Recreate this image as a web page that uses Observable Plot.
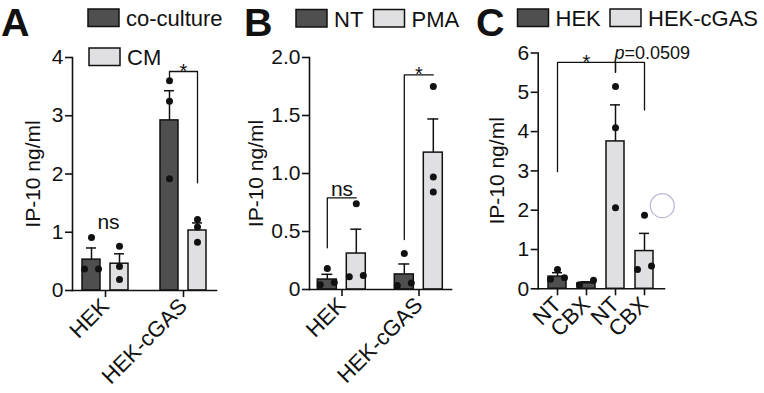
<!DOCTYPE html>
<html><head><meta charset="utf-8">
<script src="https://cdn.jsdelivr.net/npm/d3@7"></script>
<script src="https://cdn.jsdelivr.net/npm/@observablehq/plot@0.6"></script>
<style>
html,body{margin:0;padding:0;background:#fff;}
#wrap{position:relative;width:764px;height:393px;overflow:hidden;font-family:"Liberation Sans",Arial,sans-serif;color:#111;}
#wrap > svg{position:absolute;}
</style></head><body><div id="wrap"></div>
<script>
// ---------- Panel A ----------
const aGroups = ["HEK", "HEK-cGAS"];
const aTreat = ["co-culture", "CM"];
const aMean = [0.53, 0.46, 2.92, 1.03];          // HEK co, HEK CM, cGAS co, cGAS CM
const aSem = [0.20, 0.17, 0.51, 0.13];
const aPoints = [[0.91, 0.37, 0.37], [0.76, 0.41, 0.19], [3.60, 3.25, 1.92], [1.22, 1.09, 0.83]];
const aTicks = [0, 1, 2, 3, 4];

// ---------- Panel B ----------
const bGroups = ["HEK", "HEK-cGAS"];
const bTreat = ["NT", "PMA"];
const bMean = [0.086, 0.31, 0.13, 1.18];
const bSem = [0.045, 0.21, 0.09, 0.29];
const bPoints = [[0.18, 0.04, 0.06], [0.74, 0.11, 0.12], [0.31, 0.035, 0.055], [1.75, 0.97, 0.84]];
const bTicks = [0, 0.5, 1, 1.5, 2];

// ---------- Panel C ----------
const cGroups = ["HEK", "HEK-cGAS"];
const cTreat = ["NT", "CBX"];
const cMean = [0.31, 0.14, 3.75, 0.96];
const cSem = [0.10, 0.04, 0.93, 0.45];
const cPoints = [[0.49, 0.24, 0.28], [0.10, 0.22], [5.15, 4.10, 2.06], [1.87, 0.49, 0.58]];
const cTicks = [0, 1, 2, 3, 4, 5, 6];

// significance annotations (data space)
const aNs = [{fx: "HEK", y: 1.06, label: "ns"}];
const aBrackets = [{fx: "HEK-cGAS", from: "co-culture", to: "CM", top: 3.76, leftEnd: 3.66, rightEnd: 1.85, label: "*"}];
const bBrackets = [
  {fx: "HEK", from: "NT", to: "PMA", top: 0.79, leftEnd: 0.36, rightEnd: 0.79, label: "ns"},
  {fx: "HEK-cGAS", from: "NT", to: "PMA", top: 1.85, leftEnd: 0.43, rightEnd: 1.85, label: "*"}
];
const cBrackets = [
  {from: "HEK|NT", to: "HEK-cGAS|NT", mid: "HEK|CBX", top: 5.76, leftEnd: 2.98, rightEnd: 5.51, label: "*"},
  {from: "HEK-cGAS|NT", to: "HEK-cGAS|CBX", top: 5.76, leftEnd: 5.51, rightEnd: 4.55, label: "=0.0509"}
];

const DARK = "#4f4f4f", LIGHT = "#e0e0e2", INK = "#111";
const FONT = "'Liberation Sans', Arial, sans-serif";
const SW = 1.6;

function buildBars(groups, treats, means, sems, points) {
  const bars = [];
  let i = 0;
  for (const g of groups) for (const t of treats) {
    bars.push({group: g, treat: t, key: g + "|" + t, mean: means[i], sem: sems[i], pts: points[i]});
    i++;
  }
  return bars;
}
function buildDots(bars, thr) {
  const out = [];
  for (const b of bars) {
    const sorted = b.pts.map(v => ({v})).sort((p, q) => p.v - q.v);
    const clusters = [];
    for (const p of sorted) {
      const last = clusters[clusters.length - 1];
      if (last && p.v - last[last.length - 1].v < thr) last.push(p); else clusters.push([p]);
    }
    for (const c of clusters) c.forEach((p, i) => {
      const slot = c.length === 1 ? 0 : Math.round(2 * (i - (c.length - 1) / 2) / (c.length - 1));
      out.push({group: b.group, treat: b.treat, key: b.key, v: p.v, slot});
    });
  }
  return out;
}
function bracketPts(brs, faceted) {
  const pts = [];
  brs.forEach((b, i) => {
    const base = faceted ? {fx: b.fx} : {};
    pts.push({...base, id: i, x: b.from, y: b.leftEnd});
    pts.push({...base, id: i, x: b.from, y: b.top});
    pts.push({...base, id: i, x: b.to, y: b.top});
    pts.push({...base, id: i, x: b.to, y: b.rightEnd});
  });
  return pts;
}
const baseStyle = {background: "transparent", overflow: "visible", fontFamily: FONT, fontSize: "21px", color: INK};

function dotMarks(dots, xField, faceted) {
  return [-1, 0, 1].map(s => Plot.dot(dots.filter(d => d.slot === s), {
    ...(faceted ? {fx: "group"} : {}), x: xField, y: "v", dx: s * 7, r: 3.5, fill: INK, stroke: "none"
  }));
}
const intFmt = d => String(d);

// ---------- build A ----------
const aBars = buildBars(aGroups, aTreat, aMean, aSem, aPoints);
const aDots = buildDots(aBars, 0.12);
const plotA = Plot.plot({
  width: 240, height: 393,
  marginLeft: 70, marginRight: 22, marginTop: 57, marginBottom: 103,
  style: baseStyle,
  fx: {domain: aGroups, paddingInner: 0.15, paddingOuter: 0.012, label: null},
  x: {domain: aTreat, paddingInner: 0.356, paddingOuter: 0.317, axis: null},
  y: {domain: [0, 4]},
  color: {domain: aTreat, range: [DARK, LIGHT]},
  marks: [
    Plot.barY(aBars, {fx: "group", x: "treat", y: "mean", fill: "treat", stroke: INK, strokeWidth: 1.5}),
    Plot.ruleX(aBars, {fx: "group", x: "treat", y1: "mean", y2: d => d.mean + d.sem, stroke: INK, strokeWidth: 1.5}),
    Plot.tickY(aBars, {fx: "group", x: "treat", y: d => d.mean + d.sem, insetLeft: 4, insetRight: 4, stroke: INK, strokeWidth: 1.5}),
    ...dotMarks(aDots, "treat", true),
    Plot.line(bracketPts(aBrackets, true), {fx: "fx", x: "x", y: "y", z: "id", stroke: INK, strokeWidth: 1.3}),
    Plot.text(aBrackets, {fx: "fx", y: "top", text: "label", lineAnchor: "middle", fontSize: 20, fill: INK}),
    Plot.text(aNs, {fx: "fx", y: "y", text: "label", lineAnchor: "bottom", dx: 3, fill: INK}),
    Plot.frame({anchor: "left", facet: "super", stroke: INK, strokeWidth: SW}),
    Plot.frame({anchor: "bottom", facet: "super", stroke: INK, strokeWidth: SW}),
    Plot.axisY({ticks: aTicks, tickFormat: intFmt, tickSize: 7, tickPadding: 2, strokeWidth: SW, label: "IP-10 ng/ml", labelAnchor: "center", labelArrow: false, labelOffset: 47}),
    Plot.axisFx({anchor: "bottom", tickSize: 7, tickRotate: -45, tickPadding: 5, fontSize: 22, strokeWidth: SW, label: null})
  ]
});
plotA.style.left = "0px"; plotA.style.top = "0px";

// ---------- build B ----------
const bBars = buildBars(bGroups, bTreat, bMean, bSem, bPoints);
const bDots = buildDots(bBars, 0.06);
const plotB = Plot.plot({
  width: 230, height: 393,
  marginLeft: 66.7, marginRight: 16, marginTop: 57, marginBottom: 104,
  style: baseStyle,
  fx: {domain: bGroups, paddingInner: 0.15, paddingOuter: 0.029, label: null},
  x: {domain: bTreat, paddingInner: 0.356, paddingOuter: 0.29, axis: null},
  y: {domain: [0, 2]},
  color: {domain: bTreat, range: [DARK, LIGHT]},
  marks: [
    Plot.barY(bBars, {fx: "group", x: "treat", y: "mean", fill: "treat", stroke: INK, strokeWidth: 1.5}),
    Plot.ruleX(bBars, {fx: "group", x: "treat", y1: "mean", y2: d => d.mean + d.sem, stroke: INK, strokeWidth: 1.5}),
    Plot.tickY(bBars, {fx: "group", x: "treat", y: d => d.mean + d.sem, insetLeft: 4, insetRight: 4, stroke: INK, strokeWidth: 1.5}),
    ...dotMarks(bDots, "treat", true),
    Plot.line(bracketPts(bBrackets, true), {fx: "fx", x: "x", y: "y", z: "id", stroke: INK, strokeWidth: 1.3}),
    Plot.text(bBrackets.filter(b => b.label === "*"), {fx: "fx", y: "top", text: "label", lineAnchor: "middle", fontSize: 20, fill: INK}),
    Plot.text(bBrackets.filter(b => b.label !== "*"), {fx: "fx", y: "top", text: "label", lineAnchor: "bottom", dy: -2, fill: INK}),
    Plot.frame({anchor: "left", facet: "super", stroke: INK, strokeWidth: SW}),
    Plot.frame({anchor: "bottom", facet: "super", stroke: INK, strokeWidth: SW}),
    Plot.axisY({ticks: bTicks, tickFormat: d => d === 0 ? "0" : d.toFixed(1), tickSize: 7, tickPadding: 2, strokeWidth: SW, label: "IP-10 ng/ml", labelAnchor: "center", labelArrow: false, labelOffset: 61}),
    Plot.axisFx({anchor: "bottom", tickSize: 7, tickRotate: -45, tickPadding: 5, fontSize: 22, strokeWidth: SW, label: null})
  ]
});
plotB.style.left = "240px"; plotB.style.top = "0px";

// ---------- build C ----------
const cBars = buildBars(cGroups, cTreat, cMean, cSem, cPoints);
const cDots = buildDots(cBars, 0.18);
const cKeys = cBars.map(b => b.key);
const plotC = Plot.plot({
  width: 294, height: 393,
  marginLeft: 67.7, marginRight: 100, marginTop: 52.5, marginBottom: 104.7,
  style: baseStyle,
  x: {domain: cKeys, paddingInner: 0.366, paddingOuter: 0.346},
  y: {domain: [0, 6]},
  color: {domain: cGroups, range: [DARK, LIGHT]},
  marks: [
    Plot.barY(cBars, {x: "key", y: "mean", fill: "group", stroke: INK, strokeWidth: 1.5}),
    Plot.ruleX(cBars, {x: "key", y1: "mean", y2: d => d.mean + d.sem, stroke: INK, strokeWidth: 1.5}),
    Plot.tickY(cBars, {x: "key", y: d => d.mean + d.sem, insetLeft: 4, insetRight: 4, stroke: INK, strokeWidth: 1.5}),
    ...dotMarks(cDots, "key", false),
    Plot.line(bracketPts(cBrackets, false), {x: "x", y: "y", z: "id", stroke: INK, strokeWidth: 1.3}),
    Plot.text(cBrackets.filter(b => b.label === "*"), {x: "mid", y: "top", text: "label", lineAnchor: "middle", fontSize: 20, fill: INK}),
    Plot.text(cBrackets.filter(b => b.label !== "*"), {x: "from", y: "top", text: () => "p", fontStyle: "italic", textAnchor: "start", lineAnchor: "bottom", dy: -3, dx: -1, fontSize: 18, fill: INK}),
    Plot.text(cBrackets.filter(b => b.label !== "*"), {x: "from", y: "top", text: "label", textAnchor: "start", lineAnchor: "bottom", dy: -3, dx: 9, fontSize: 18, fill: INK}),
    Plot.frame({anchor: "left", stroke: INK, strokeWidth: SW}),
    Plot.frame({anchor: "bottom", stroke: INK, strokeWidth: SW}),
    Plot.axisY({ticks: cTicks, tickFormat: intFmt, tickSize: 7, tickPadding: 2, strokeWidth: SW, label: "IP-10 ng/ml", labelAnchor: "center", labelArrow: false, labelOffset: 49}),
    Plot.axisX({tickFormat: k => k.split("|")[1], tickSize: 7, tickRotate: -45, tickPadding: 5, fontSize: 22, strokeWidth: SW, label: null})
  ]
});
plotC.style.left = "470px"; plotC.style.top = "0px";

const wrap = document.getElementById("wrap");
wrap.append(plotA, plotB, plotC);

// ---------- overlay: panel letters and legends ----------
const ov = d3.select(wrap).append("svg")
  .attr("width", 764).attr("height", 393)
  .style("left", "0px").style("top", "0px").style("pointer-events", "none")
  .style("font-family", FONT).style("overflow", "visible");

const letters = [{t: "A", x: 1, y: 36}, {t: "B", x: 244, y: 36}, {t: "C", x: 476, y: 36}];
ov.selectAll("text.letter").data(letters).join("text")
  .attr("x", d => d.x).attr("y", d => d.y).attr("font-size", 39.5).attr("font-weight", "bold")
  .attr("fill", INK).text(d => d.t);

const legendItems = [
  {label: aTreat[0], fill: DARK, x: 88, y: 9},
  {label: aTreat[1], fill: LIGHT, x: 89, y: 48},
  {label: bTreat[0], fill: DARK, x: 296, y: 9.5},
  {label: bTreat[1], fill: LIGHT, x: 373.5, y: 9.5},
  {label: cGroups[0], fill: DARK, x: 517.5, y: 9},
  {label: cGroups[1], fill: LIGHT, x: 610, y: 9}
];
const lg = ov.selectAll("g.lg").data(legendItems).join("g").attr("transform", d => `translate(${d.x},${d.y})`);
lg.append("rect").attr("width", 31).attr("height", 17.5).attr("fill", d => d.fill).attr("stroke", INK).attr("stroke-width", 1.5);
lg.append("text").attr("x", 38).attr("y", 17).attr("font-size", 22).attr("fill", INK).text(d => d.label);

// small open circle present in the original figure
ov.append("circle").attr("cx", 662.3).attr("cy", 205.7).attr("r", 12)
  .attr("fill", "none").attr("stroke", "#b9b6d3").attr("stroke-width", 1.2);
</script>
</body></html>
